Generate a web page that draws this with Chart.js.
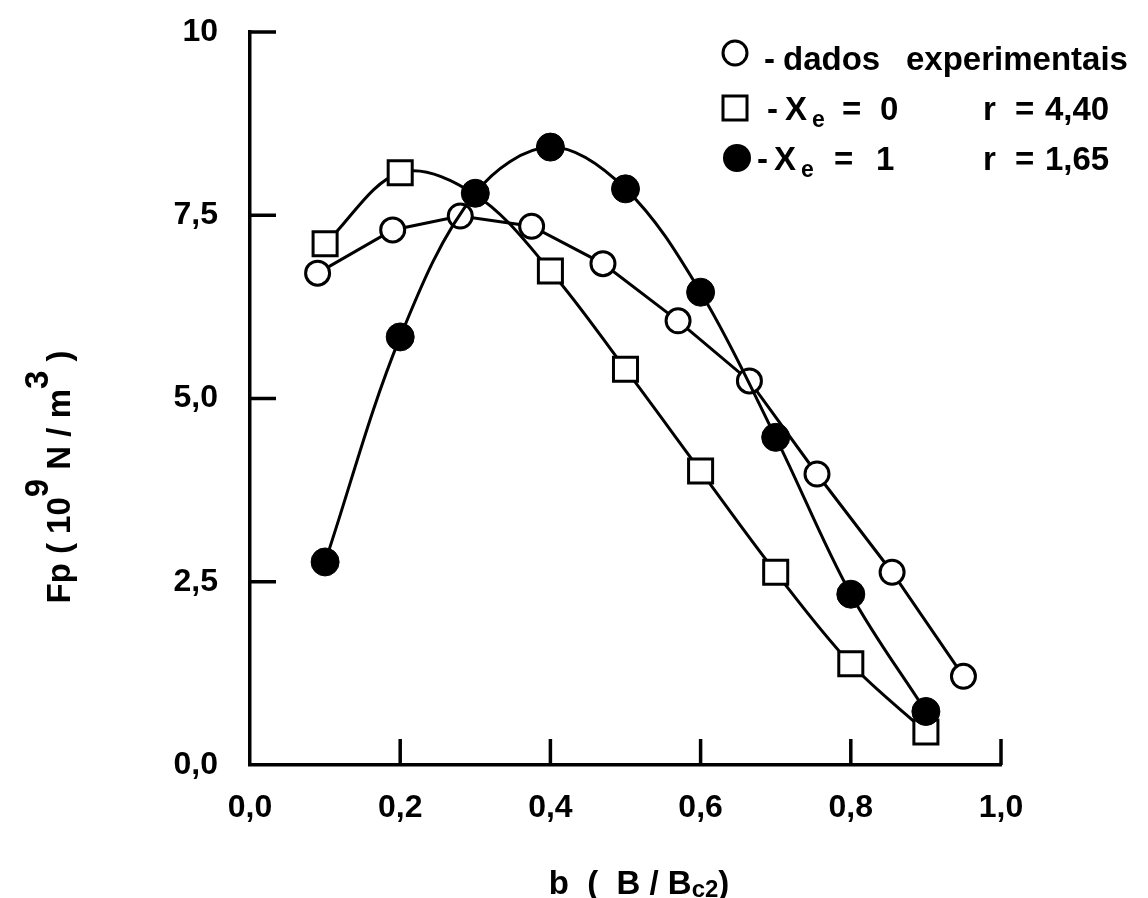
<!DOCTYPE html>
<html>
<head>
<meta charset="utf-8">
<title>Fp x b</title>
<script src="https://cdn.jsdelivr.net/npm/chart.js@4.4.1/dist/chart.umd.min.js"></script>
<style>
  html, body { margin: 0; padding: 0; background: #fff; }
  #wrap { width: 1148px; height: 898px; }
</style>
</head>
<body>
<div id="wrap"><canvas id="c" width="1148" height="898"></canvas></div>
<script>
// Reduced field b = B/Bc2 and pinning force density Fp (10^9 N/m^3)
const xTickValues = [0, 0.2, 0.4, 0.6, 0.8, 1.0];
const yTickValues = [0, 2.5, 5, 7.5, 10];

// Experimental data (open circles)
const bExperimental = [0.09, 0.19, 0.28, 0.375, 0.47, 0.57, 0.665, 0.755, 0.855, 0.95];
const fpExperimental = [6.71, 7.30, 7.49, 7.35, 6.84, 6.06, 5.24, 3.97, 2.63, 1.21];

// Model curves, Xe = 0 (r = 4,40) and Xe = 1 (r = 1,65)
const bModel = [0.1, 0.2, 0.3, 0.4, 0.5, 0.6, 0.7, 0.8, 0.9];
const fpXe0 = [7.11, 8.08, 7.78, 6.74, 5.40, 4.01, 2.63, 1.38, 0.45];
const fpXe1 = [2.77, 5.84, 7.80, 8.43, 7.86, 6.45, 4.47, 2.33, 0.73];

const FONT = '"Liberation Sans", Arial, sans-serif';
const commaNum = (v, d) => v.toFixed(d).replace('.', ',');
const toPoints = (xs, ys) => xs.map((x, i) => ({ x: x, y: ys[i] }));

// A square marker that falls under a filled marker of the Xe = 1 curve is not drawn
const squareRadius = ctx => {
  const i = ctx.dataIndex;
  return Math.abs(fpXe0[i] - fpXe1[i]) < 0.1 ? 0 : 17;
};

// Inward tick marks on both axes
const innerTicks = {
  id: 'innerTicks',
  afterDraw(chart) {
    const { ctx, chartArea: a, scales: { x, y } } = chart;
    const len = 26;
    ctx.save();
    ctx.strokeStyle = '#000';
    ctx.lineWidth = 3.5;
    ctx.beginPath();
    yTickValues.forEach(v => {
      if (v === 0) return;
      const py = y.getPixelForValue(v);
      ctx.moveTo(a.left, py);
      ctx.lineTo(a.left + len, py);
    });
    xTickValues.forEach(v => {
      if (v === 0) return;
      const px = x.getPixelForValue(v);
      ctx.moveTo(px, a.bottom);
      ctx.lineTo(px, a.bottom - len);
    });
    ctx.stroke();
    ctx.restore();
  }
};

// Axis titles with superscripts / subscripts
const axisTitles = {
  id: 'axisTitles',
  afterDraw(chart) {
    const { ctx } = chart;
    ctx.save();
    ctx.fillStyle = '#000';
    ctx.textBaseline = 'alphabetic';
    ctx.textAlign = 'left';

    // x title: b ( B / Bc2 )
    const big = 'bold 33px ' + FONT;
    const small = 'bold 24px ' + FONT;
    const xParts = [
      { t: 'b  (  B / B', f: big, dy: 0 },
      { t: 'c2', f: small, dy: 3 },
      { t: ')', f: big, dy: 0 }
    ];
    let w = 0;
    xParts.forEach(p => { ctx.font = p.f; w += ctx.measureText(p.t).width; });
    let cx = 639 - w / 2;
    xParts.forEach(p => {
      ctx.font = p.f;
      ctx.fillText(p.t, cx, 894 + p.dy);
      cx += ctx.measureText(p.t).width;
    });

    // y title: Fp ( 10^9 N/m^3 ), rotated
    const yParts = [
      { t: 'Fp ( 10', f: big, dy: 0 },
      { t: '9', f: big, dy: -22 },
      { t: ' N / m', f: big, dy: 0 },
      { t: '3', f: big, dy: -22 },
      { t: ' )', f: big, dy: 0 }
    ];
    w = 0;
    yParts.forEach(p => { ctx.font = p.f; w += ctx.measureText(p.t).width; });
    ctx.translate(70, 477);
    ctx.rotate(-Math.PI / 2);
    cx = -w / 2;
    yParts.forEach(p => {
      ctx.font = p.f;
      ctx.fillText(p.t, cx, p.dy);
      cx += ctx.measureText(p.t).width;
    });
    ctx.restore();
  }
};

// Key in the upper right corner
const keyBox = {
  id: 'keyBox',
  afterDraw(chart) {
    const { ctx } = chart;
    ctx.save();
    ctx.fillStyle = '#000';
    ctx.strokeStyle = '#000';
    ctx.lineWidth = 3;
    ctx.textAlign = 'left';
    ctx.textBaseline = 'alphabetic';
    const big = 'bold 33px ' + FONT;
    const sub = 'bold 23px ' + FONT;

    // markers
    ctx.fillStyle = '#fff';
    ctx.beginPath(); ctx.arc(735, 53, 12, 0, Math.PI * 2); ctx.fill(); ctx.stroke();
    ctx.beginPath(); ctx.rect(723, 96, 24, 24); ctx.fill(); ctx.stroke();
    ctx.fillStyle = '#000';
    ctx.beginPath(); ctx.arc(737, 158, 14, 0, Math.PI * 2); ctx.fill();

    const put = (t, x, y, f) => { ctx.font = f || big; ctx.fillText(t, x, y); };
    put('-', 764, 70);
    put('dados', 783, 70);
    put('experimentais', 906, 70);

    put('-', 767, 120);
    put('X', 785, 120);
    put('e', 812, 127, sub);
    put('=', 842, 120);
    put('0', 880, 120);
    put('r', 983, 120);
    put('=', 1015, 120);
    put('4,40', 1045, 120);

    put('-', 757, 170);
    put('X', 774, 170);
    put('e', 801, 177, sub);
    put('=', 834, 170);
    put('1', 876, 170);
    put('r', 983, 170);
    put('=', 1015, 170);
    put('1,65', 1045, 170);
    ctx.restore();
  }
};

new Chart(document.getElementById('c'), {
  type: 'scatter',
  data: {
    datasets: [
      {
        label: 'Xe = 1, r = 1,65',
        data: toPoints(bModel, fpXe1),
        showLine: true,
        tension: 0.35,
        borderColor: '#000',
        borderWidth: 3,
        pointStyle: 'circle',
        pointRadius: 14,
        pointBackgroundColor: '#000',
        pointBorderColor: '#000',
        pointBorderWidth: 1,
        order: 0
      },
      {
        label: 'Xe = 0, r = 4,40',
        data: toPoints(bModel, fpXe0),
        showLine: true,
        tension: 0.35,
        borderColor: '#000',
        borderWidth: 3,
        pointStyle: 'rect',
        pointRadius: squareRadius,
        pointBackgroundColor: '#fff',
        pointBorderColor: '#000',
        pointBorderWidth: 3,
        order: 1
      },
      {
        label: 'dados experimentais',
        data: toPoints(bExperimental, fpExperimental),
        showLine: true,
        tension: 0,
        borderColor: '#000',
        borderWidth: 3,
        pointStyle: 'circle',
        pointRadius: 12,
        pointBackgroundColor: '#fff',
        pointBorderColor: '#000',
        pointBorderWidth: 3,
        order: 2
      }
    ]
  },
  options: {
    responsive: false,
    animation: false,
    devicePixelRatio: 1,
    layout: { padding: { top: 32, right: 147, bottom: 0, left: 0 } },
    plugins: {
      legend: { display: false },
      tooltip: { enabled: false }
    },
    scales: {
      x: {
        type: 'linear',
        min: 0,
        max: 1,
        afterFit: s => { s.height = 133; s.paddingLeft = 0; s.paddingRight = 0; },
        afterBuildTicks: s => { s.ticks = xTickValues.map(v => ({ value: v })); },
        grid: { display: false, drawTicks: false },
        border: { display: true, color: '#000', width: 3.5 },
        ticks: {
          color: '#000',
          padding: 24,
          font: { family: FONT, size: 32, weight: 'bold' },
          callback: v => commaNum(v, 1)
        }
      },
      y: {
        type: 'linear',
        min: 0,
        max: 10,
        afterFit: s => { s.width = 250; s.paddingTop = 0; s.paddingBottom = 0; },
        afterBuildTicks: s => { s.ticks = yTickValues.map(v => ({ value: v })); },
        grid: { display: false, drawTicks: false },
        border: { display: true, color: '#000', width: 3.5 },
        ticks: {
          color: '#000',
          padding: 32,
          font: { family: FONT, size: 32, weight: 'bold' },
          callback: v => (v === 10 ? '10' : commaNum(v, 1))
        }
      }
    }
  },
  plugins: [innerTicks, axisTitles, keyBox]
});
</script>
</body>
</html>
